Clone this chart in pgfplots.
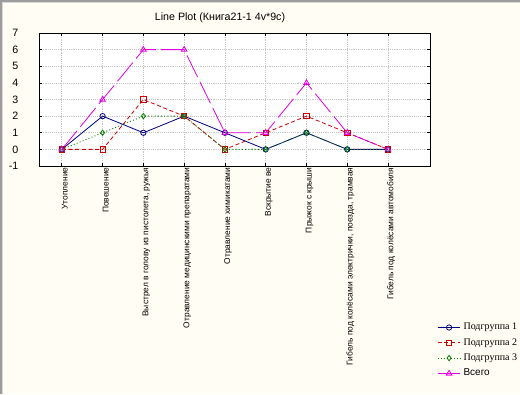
\documentclass[border=0pt]{standalone}
\usepackage{fontspec}
\setmainfont{Liberation Sans}
\newfontfamily\seriffont{Liberation Serif}
\usepackage{pgfplots}
\pgfplotsset{compat=1.18}
\definecolor{bgcream}{HTML}{FFFDF4}
\definecolor{frame}{HTML}{9C9C9C}
\definecolor{gblue}{HTML}{000080}
\definecolor{gred}{HTML}{CC0000}
\definecolor{ggreen}{HTML}{008000}
\definecolor{gmag}{HTML}{E000E0}
\begin{document}
\begin{tikzpicture}
\useasboundingbox (0,0) rectangle (390pt,-295.5pt);
\clip (0,0) rectangle (390pt,-295.5pt);
\fill[bgcream] (0,0) rectangle (390pt,-295.5pt);
\draw[frame, line width=1.5pt] (0.75pt,-295.5pt) -- (0.75pt,-0.75pt) -- (390pt,-0.75pt);
\draw[white!85!black, line width=0.6pt] (1.9pt,-295.5pt) -- (1.9pt,-1.9pt) -- (390pt,-1.9pt);
\node[font=\fontsize{8}{9}\selectfont, anchor=base] at (165pt,-15.5pt) {Line Plot (Книга21-1 4v*9c)};
\begin{axis}[
  at={(29.25pt,-124.5pt)}, anchor=south west,
  scale only axis, width=293.25pt, height=99.75pt,
  xmin=0.44, xmax=10.03, ymin=-1, ymax=7,
  axis background/.style={fill=white},
  xtick={1,...,9}, ytick={-1,0,...,7},
  xticklabels={Утопление, Повешение, {Выстрел в голову из пистолета, ружья}, Отравление медицинскими препаратами, Отравление химикатами, Вскрытие ве, Прыжок с крыши, {Гибель под колёсами электрички, поезда, трамвая}, Гибель под колёсами автомобиля},
  xticklabel style={rotate=90, anchor=east, font=\fontsize{6.3}{7}\selectfont, inner sep=1pt, yshift=-2.3pt},
  yticklabel style={font=\fontsize{8}{9}\selectfont, anchor=east, xshift=-12pt},
  /pgf/number format/assume math mode=true,
  tick pos=both, tick align=inside, major tick length=2.5pt,
  tick style={black, line width=0.5pt},
  axis line style={black, line width=0.6pt},
  grid=major, major grid style={gray!45, densely dotted, line width=0.5pt},
  legend cell align=left,
  legend style={at={(1.018,-1.16)}, anchor=north west, draw=none, fill=none,
    font=\fontsize{7.5}{8}\selectfont, row sep=1pt, inner sep=0pt},
]
\addplot[gblue, line width=0.6pt, mark=o, mark size=2pt, mark options={solid, fill=white}]
  coordinates {(1,0) (2,2) (3,1) (4,2) (5,1) (6,0) (7,1) (8,0) (9,0)};
\addlegendentry{\seriffont Подгруппа 1}
\addplot[gred, line width=0.6pt, dash pattern=on 3pt off 2pt, mark=square, mark size=2pt, mark options={solid, fill=white}]
  coordinates {(1,0) (2,0) (3,3) (4,2) (5,0) (6,1) (7,2) (8,1) (9,0)};
\addlegendentry{\seriffont Подгруппа 2}
\addplot[ggreen, line width=0.6pt, dash pattern=on 0.8pt off 1.6pt, mark=diamond, mark size=2pt, mark options={solid, fill=white}]
  coordinates {(1,0) (2,1) (3,2) (4,2) (5,0) (6,0) (7,1) (8,0) (9,0)};
\addlegendentry{\seriffont Подгруппа 3}
\addplot[gmag, line width=0.6pt, dash pattern=on 18pt off 4pt, mark=triangle, mark size=2.4pt, mark options={solid, fill=white}]
  coordinates {(1,0) (2,3) (3,6) (4,6) (5,1) (6,1) (7,4) (8,1) (9,0)};
\addlegendentry{Всего}
\end{axis}
\end{tikzpicture}
\end{document}
